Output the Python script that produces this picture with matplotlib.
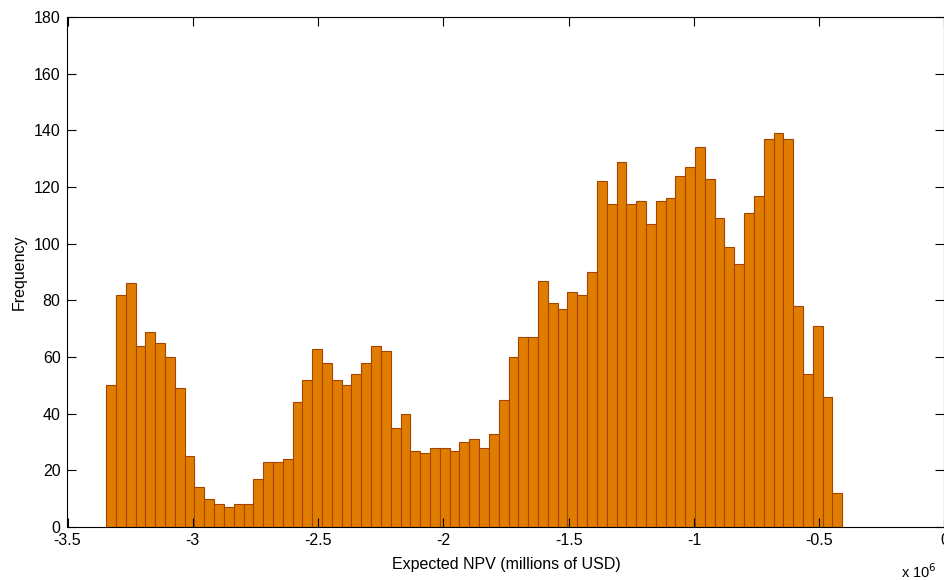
import matplotlib
matplotlib.use("Agg")
import matplotlib.pyplot as plt
import numpy as np

# Histogram counts (75 bins)
counts = [50, 82, 86, 64, 69, 65, 60, 49, 25, 14, 10, 8, 7, 8, 8, 17, 23, 23, 24, 44,
          52, 63, 58, 52, 50, 54, 58, 64, 62, 35, 40, 27, 26, 28, 28, 27, 30, 31, 28, 33,
          45, 60, 67, 67, 87, 79, 77, 83, 82, 90, 122, 114, 129, 114, 115, 107, 115, 116, 124, 127,
          134, 123, 109, 99, 93, 111, 117, 137, 139, 137, 78, 54, 71, 46, 12]
bin_start = -3.346   # x 10^6
bin_end = -0.408     # x 10^6
x_ticks = [-3.5, -3, -2.5, -2, -1.5, -1, -0.5, 0]
x_tick_labels = ["-3.5", "-3", "-2.5", "-2", "-1.5", "-1", "-0.5", "0"]
y_ticks = [0, 20, 40, 60, 80, 100, 120, 140, 160, 180]

plt.rcParams['font.family'] = ['Liberation Sans', 'DejaVu Sans']

fig = plt.figure(figsize=(9.45, 5.8), dpi=100)
W, H = 945, 580
ax = fig.add_axes([67.5 / W, 1 - 527 / H, (944.5 - 67.5) / W, (527 - 17) / H])

edges = np.linspace(bin_start, bin_end, len(counts) + 1)
ax.bar(edges[:-1], counts, width=np.diff(edges), align='edge',
       color='#E07D00', edgecolor='#A44400', linewidth=0.8)

ax.set_xlim(-3.5, 0)
ax.set_ylim(0, 180)
ax.set_xticks(x_ticks)
ax.set_xticklabels(x_tick_labels)
ax.set_yticks(y_ticks)
ax.tick_params(direction='in', length=6.5, width=0.8, colors='black',
               labelsize=11.5, top=True, right=True, pad=4)
ax.tick_params(axis='y', pad=5)
for sp in ax.spines.values():
    sp.set_linewidth(0.8)
    sp.set_color('black')

ax.set_xlabel('Expected NPV (millions of USD)', fontsize=11.5, labelpad=7)
ax.set_ylabel('Frequency', fontsize=11.5, labelpad=5)
fig.text(901 / W, 1 - 572 / H, r'x 10$^{6}$', fontsize=10.5, ha='left', va='center')

fig.savefig('out.png', dpi=100)
